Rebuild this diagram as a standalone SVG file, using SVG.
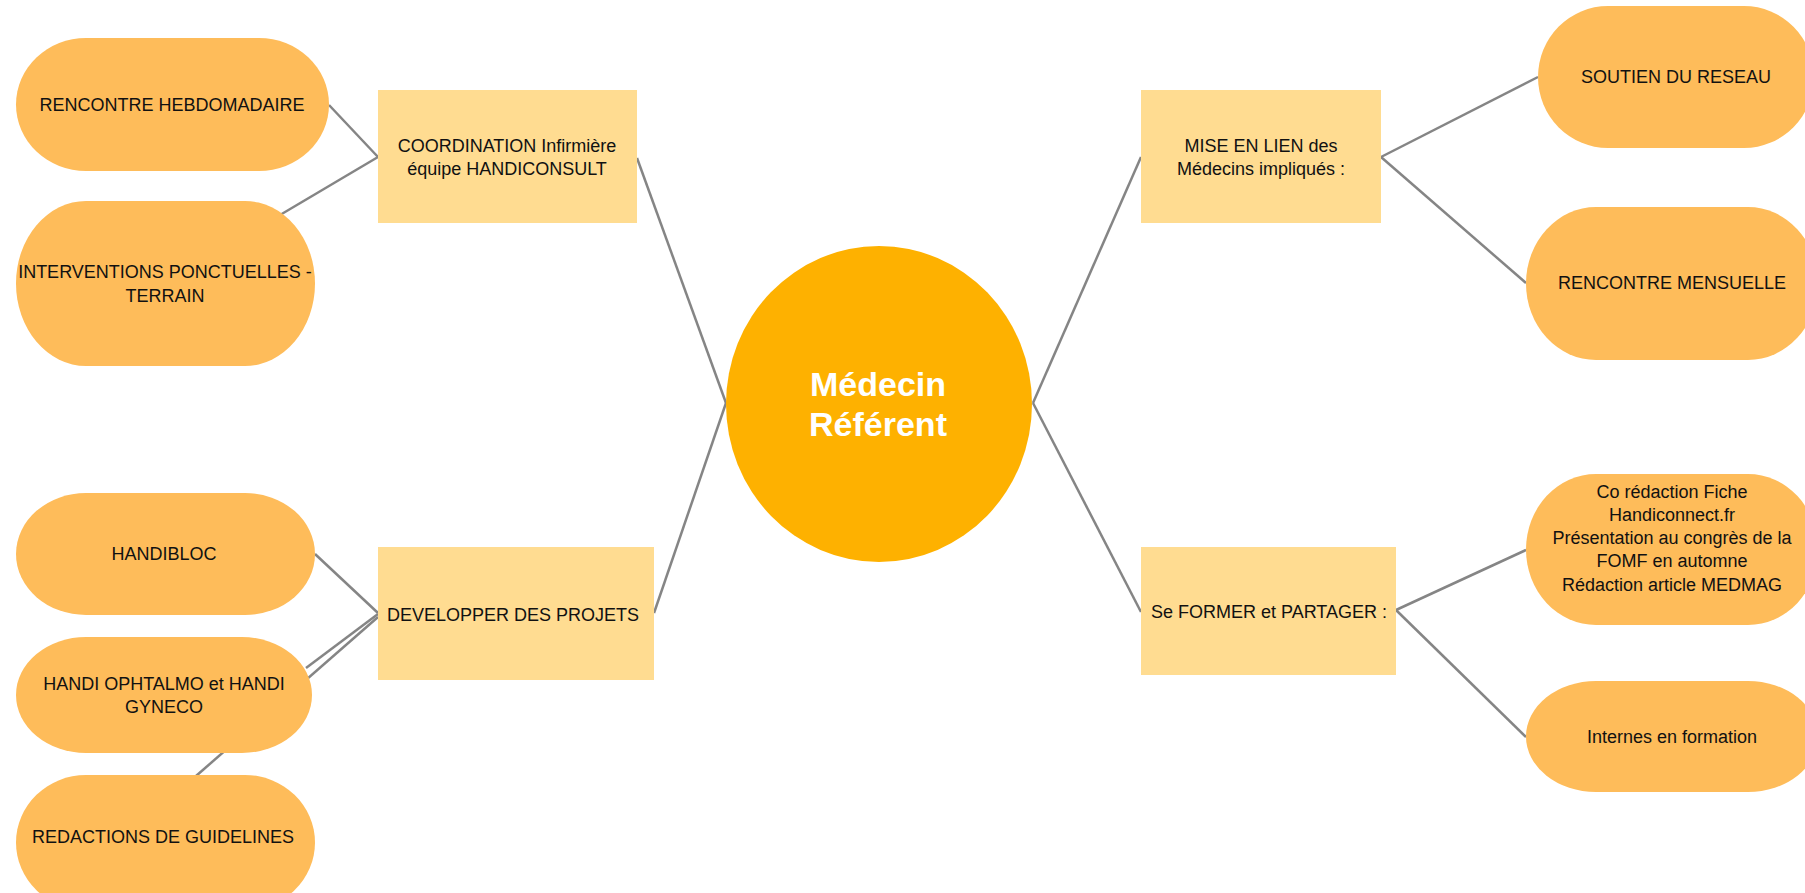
<svg xmlns="http://www.w3.org/2000/svg" width="1805" height="893" viewBox="0 0 1805 893">
<style>
.bg{fill:#ffffff}
.pill{fill:#FEBC5A}
.box{fill:#FFDC91}
.hub{fill:#FEB100}
.t{font-family:"Liberation Sans",Arial,sans-serif;font-size:18px;fill:#111111;text-anchor:middle}
.ht{font-family:"Liberation Sans",Arial,sans-serif;font-size:34px;font-weight:bold;fill:#ffffff;text-anchor:middle}
.c{stroke:#858585;stroke-width:2.5;fill:none}
</style>
<rect class="bg" x="0" y="0" width="1805" height="893"/>
<g id="connectors">
<line class="c" x1="329" y1="105" x2="378" y2="157"/>
<line class="c" x1="280" y1="215" x2="378" y2="157"/>
<line class="c" x1="637" y1="158" x2="726" y2="403"/>
<line class="c" x1="654" y1="613" x2="726" y2="403"/>
<line class="c" x1="315" y1="554" x2="378" y2="613"/>
<line class="c" x1="306" y1="668" x2="378" y2="614"/>
<line class="c" x1="196" y1="776" x2="378" y2="617"/>
<line class="c" x1="1033" y1="403" x2="1141" y2="157"/>
<line class="c" x1="1033" y1="403" x2="1141" y2="612"/>
<line class="c" x1="1381" y1="157" x2="1538" y2="77"/>
<line class="c" x1="1381" y1="157" x2="1526" y2="283"/>
<line class="c" x1="1396" y1="610" x2="1526" y2="550"/>
<line class="c" x1="1396" y1="610" x2="1526" y2="737"/>
</g>
<g id="hub">
<ellipse class="hub" cx="879" cy="404" rx="153" ry="158"/>
<text class="ht" x="878" y="396">Médecin</text>
<text class="ht" x="878" y="436">Référent</text>
</g>
<g id="coordination">
<rect class="box" x="378" y="90" width="259" height="133"/>
<text class="t" x="507" y="152">COORDINATION Infirmière</text>
<text class="t" x="507" y="175">équipe HANDICONSULT</text>
</g>
<g id="rencontre-hebdo">
<rect class="pill" x="16" y="38" width="313" height="133" rx="70" ry="66.5"/>
<text class="t" x="172" y="111">RENCONTRE HEBDOMADAIRE</text>
</g>
<g id="interventions">
<rect class="pill" x="16" y="201" width="299" height="165" rx="70" ry="82.5"/>
<text class="t" x="165" y="278">INTERVENTIONS PONCTUELLES -</text>
<text class="t" x="165" y="302">TERRAIN</text>
</g>
<g id="developper">
<rect class="box" x="378" y="547" width="276" height="133"/>
<text class="t" x="513" y="621">DEVELOPPER DES PROJETS</text>
</g>
<g id="handibloc">
<rect class="pill" x="16" y="493" width="299" height="122" rx="70" ry="61"/>
<text class="t" x="164" y="560">HANDIBLOC</text>
</g>
<g id="handi-ophtalmo">
<rect class="pill" x="16" y="637" width="296" height="116" rx="70" ry="58"/>
<text class="t" x="164" y="690">HANDI OPHTALMO et HANDI</text>
<text class="t" x="164" y="713">GYNECO</text>
</g>
<g id="redactions">
<rect class="pill" x="16" y="775" width="299" height="135" rx="70" ry="67.5"/>
<text class="t" x="163" y="843">REDACTIONS DE GUIDELINES</text>
</g>
<g id="mise-en-lien">
<rect class="box" x="1141" y="90" width="240" height="133"/>
<text class="t" x="1261" y="152">MISE EN LIEN des</text>
<text class="t" x="1261" y="175">Médecins impliqués :</text>
</g>
<g id="soutien">
<rect class="pill" x="1538" y="6" width="276" height="142" rx="70" ry="71"/>
<text class="t" x="1676" y="83">SOUTIEN DU RESEAU</text>
</g>
<g id="rencontre-mensuelle">
<rect class="pill" x="1526" y="207" width="292" height="153" rx="70" ry="76.5"/>
<text class="t" x="1672" y="289">RENCONTRE MENSUELLE</text>
</g>
<g id="se-former">
<rect class="box" x="1141" y="547" width="255" height="128"/>
<text class="t" x="1269" y="618">Se FORMER et PARTAGER :</text>
</g>
<g id="co-redaction">
<rect class="pill" x="1526" y="474" width="292" height="151" rx="70" ry="75.5"/>
<text class="t" x="1672" y="498">Co rédaction Fiche</text>
<text class="t" x="1672" y="521">Handiconnect.fr</text>
<text class="t" x="1672" y="544">Présentation au congrès de la</text>
<text class="t" x="1672" y="567">FOMF en automne</text>
<text class="t" x="1672" y="591">Rédaction article MEDMAG</text>
</g>
<g id="internes">
<rect class="pill" x="1526" y="681" width="292" height="111" rx="70" ry="55.5"/>
<text class="t" x="1672" y="743">Internes en formation</text>
</g>
</svg>
